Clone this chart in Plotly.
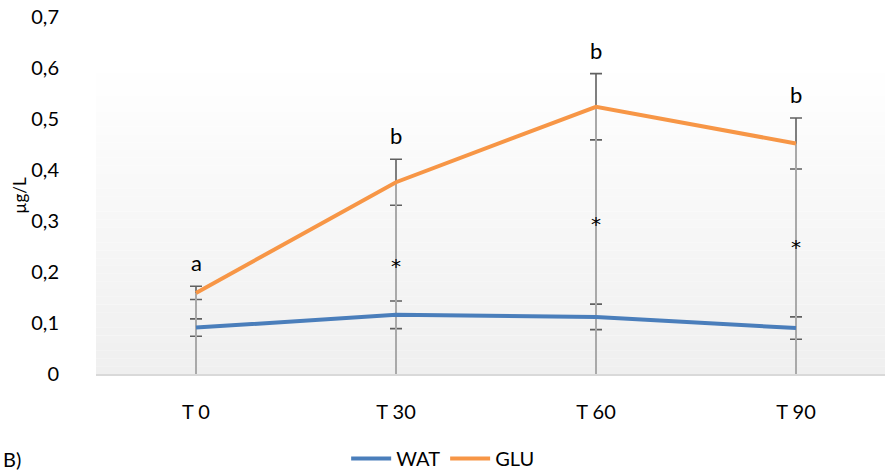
import plotly.graph_objects as go

# Sampling times and measured concentrations (µg/L)
times = ["T 0", "T 30", "T 60", "T 90"]
wat_mean = [0.091, 0.116, 0.112, 0.090]
wat_err = [0.017, 0.027, 0.025, 0.022]
glu_mean = [0.159, 0.376, 0.524, 0.452]
glu_err = [0.013, 0.045, 0.065, 0.050]

# Significance letters above GLU and asterisks between series
letters = ["a", "b", "b", "b"]
star_labels = ["", "*", "*", "*"]
star_heights = [None, 0.22, 0.302, 0.257]

BLUE = "#4a7ebb"
ORANGE = "#f79646"
FONT = "Lato"

fig = go.Figure()

# Plot-area gradient (white at the top to light grey at the bottom)
n_bands = 40
top_frac = 0.8655
for i in range(n_bands):
    f0 = i / n_bands
    t = 1 - (i + 0.5) / n_bands
    c = round(255 - 16 * t)
    fig.add_shape(type="rect", xref="paper", yref="paper",
                  x0=0, x1=1, y0=top_frac * f0, y1=top_frac * (i + 1) / n_bands,
                  fillcolor=f"rgb({c},{c},{c})", line_width=0, layer="below")

# Error bars (drawn beneath the drop lines)
for means, errs in ((wat_mean, wat_err), (glu_mean, glu_err)):
    fig.add_trace(go.Scatter(
        x=times, y=means, mode="markers", marker=dict(size=1, opacity=0),
        error_y=dict(type="data", array=errs, visible=True, color="#606060",
                     thickness=1.6, width=6),
        showlegend=False, hoverinfo="skip"))

# Drop lines from the highest point down to the axis
dx, dy = [], []
for t, w, g in zip(times, wat_mean, glu_mean):
    dx += [t, t, None]
    dy += [0, max(w, g), None]
fig.add_trace(go.Scatter(x=dx, y=dy, mode="lines",
                         line=dict(color="#a9a9a9", width=2),
                         showlegend=False, hoverinfo="skip"))

fig.add_trace(go.Scatter(x=times, y=wat_mean, mode="lines", name="WAT",
                         line=dict(color=BLUE, width=4)))
fig.add_trace(go.Scatter(x=times, y=glu_mean, mode="lines", name="GLU",
                         line=dict(color=ORANGE, width=4)))

for t, g, e, lab in zip(times, glu_mean, glu_err, letters):
    fig.add_annotation(x=t, y=g + e, text=lab, showarrow=False,
                       yanchor="bottom", yshift=8,
                       font=dict(family=FONT, size=22, color="#000000"))

for t, s, h in zip(times, star_labels, star_heights):
    if s:
        fig.add_annotation(x=t, y=h, text=s, showarrow=False, yshift=-4,
                           font=dict(family="DejaVu Sans", size=20,
                                     color="#000000"))

# Panel tag at the lower-left corner
fig.add_annotation(xref="paper", yref="paper", x=-0.121, y=-0.198,
                   xanchor="left", yanchor="top", text="B)", showarrow=False,
                   font=dict(family=FONT, size=20, color="#000000"))

fig.update_layout(
    width=885, height=471,
    margin=dict(l=96, r=0, t=17, b=97, autoexpand=False),
    paper_bgcolor="white", plot_bgcolor="rgba(0,0,0,0)",
    separators=", ",
    font=dict(family=FONT, size=20, color="#000000"),
    showlegend=True,
    legend=dict(orientation="h", x=0.44, xanchor="center", y=-0.182,
                yanchor="top", font=dict(family=FONT, size=20),
                itemwidth=40),
)
fig.update_xaxes(range=[-0.5, 3.445], showgrid=False, zeroline=False,
                 showline=True, linecolor="#d9d9d9", linewidth=2,
                 ticks="", ticklabelstandoff=19, fixedrange=True,
                 automargin=False, tickfont=dict(family=FONT, size=20))
fig.update_yaxes(range=[0, 0.7], dtick=0.1, tick0=0, showgrid=False,
                 zeroline=False, showline=False, ticks="",
                 ticklabelstandoff=36, tickfont=dict(family=FONT, size=20),
                 automargin=False,
                 title=dict(text="µg/L", font=dict(family=FONT, size=17),
                            standoff=0))

fig.write_html("out.html")
